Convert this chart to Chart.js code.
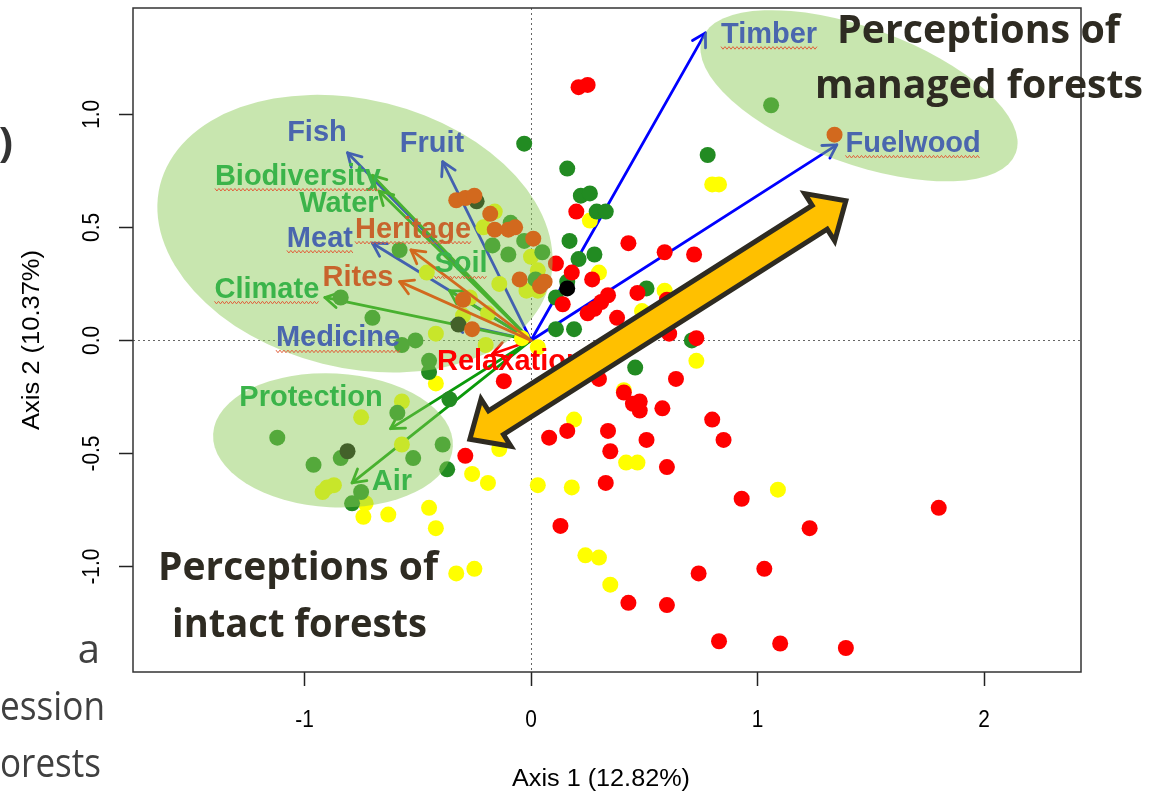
<!DOCTYPE html>
<html><head><meta charset="utf-8">
<script src="https://cdn.jsdelivr.net/npm/chart.js@4.4.1/dist/chart.umd.min.js"></script>
<style>html,body{margin:0;padding:0;background:#fff;}#wrap{width:1153px;height:800px;}</style>
</head><body><div id="wrap"><canvas id="c" width="1153" height="800"></canvas></div>
<script>
// ---------- DATA ----------
const xTicks = [-1, 0, 1, 2];
const yTicks = [-1.0, -0.5, 0.0, 0.5, 1.0];
const xTitle = 'Axis 1 (12.82%)';
const yTitle = 'Axis 2 (10.37%)';

const redPoints = [[0.21,1.12],[0.25,1.13],[0.20,0.57],[0.43,0.43],[0.59,0.39],[0.72,0.38],[0.11,0.34],[0.18,0.30],[0.27,0.27],[0.47,0.21],[0.60,0.18],[0.14,0.16],[0.34,0.20],[0.31,0.17],[0.28,0.14],[0.25,0.12],[0.38,0.10],[0.61,0.03],[0.73,0.01],[-0.12,-0.18],[0.30,-0.17],[0.41,-0.23],[0.45,-0.28],[0.48,-0.27],[0.48,-0.31],[0.58,-0.30],[0.64,-0.17],[0.80,-0.35],[0.85,-0.44],[-0.29,-0.51],[0.08,-0.43],[0.16,-0.40],[0.34,-0.40],[0.35,-0.49],[0.51,-0.44],[0.33,-0.63],[0.60,-0.56],[0.13,-0.82],[0.43,-1.16],[0.60,-1.17],[0.74,-1.03],[0.93,-0.70],[1.23,-0.83],[1.03,-1.01],[0.83,-1.33],[1.10,-1.34],[1.39,-1.36],[1.80,-0.74]];
const greenPoints = [[-0.03,0.87],[0.16,0.76],[0.22,0.64],[0.26,0.65],[0.29,0.57],[0.33,0.57],[0.17,0.44],[0.21,0.36],[0.28,0.38],[0.16,0.26],[0.11,0.19],[0.51,0.23],[0.11,0.05],[0.19,0.05],[0.71,0.00],[0.46,-0.12],[0.78,0.82],[1.06,1.04],[-0.17,0.42],[-0.10,0.38],[-0.09,0.52],[-0.03,0.44],[0.05,0.39],[0.02,0.27],[-0.58,0.40],[-0.84,0.19],[-0.70,0.10],[-0.51,0.00],[-0.57,-0.02],[-0.45,-0.09],[-0.45,-0.14],[-0.36,-0.26],[-0.59,-0.32],[-1.12,-0.43],[-0.84,-0.52],[-0.52,-0.52],[-0.39,-0.46],[-0.37,-0.57],[-0.96,-0.55],[-0.75,-0.67],[-0.79,-0.72]];
const yellowPoints = [[0.26,0.53],[0.30,0.30],[0.59,0.22],[0.49,0.13],[0.80,0.69],[0.83,0.69],[0.73,-0.09],[0.41,-0.22],[0.19,-0.35],[-0.14,-0.48],[-0.26,-0.59],[-0.19,-0.63],[0.03,-0.64],[0.18,-0.65],[0.42,-0.54],[0.47,-0.54],[1.09,-0.66],[0.24,-0.95],[0.30,-0.96],[0.35,-1.08],[-0.33,-1.03],[-0.25,-1.01],[-0.45,-0.74],[-0.42,-0.83],[-0.74,-0.78],[-0.63,-0.77],[-0.42,-0.19],[-0.04,0.01],[0.03,-0.03],[-0.73,-0.72],[-0.21,0.50],[-0.16,0.57],[0.00,0.37],[0.03,0.31],[-0.14,0.25],[-0.02,0.22],[0.03,0.22],[-0.46,0.30],[-0.27,0.19],[-0.19,0.12],[-0.30,0.11],[-0.42,0.03],[-0.20,-0.02],[-0.57,-0.27],[-0.75,-0.34],[-0.57,-0.46],[-0.92,-0.67],[-0.90,-0.65],[-0.87,-0.64]];
const blackPoints = [[0.16,0.23],[-0.32,0.07],[-0.81,-0.49],[-0.24,0.615]];
const orangePoints = [[-0.33,0.62],[-0.29,0.63],[-0.25,0.64],[-0.18,0.56],[-0.16,0.49],[-0.10,0.49],[-0.07,0.50],[0.01,0.45],[-0.05,0.27],[0.04,0.24],[0.06,0.26],[-0.30,0.18],[-0.26,0.05],[1.34,0.91]];

const loadingNames = ['Timber','Fuelwood','Fish','Fruit','Meat','Medicine','Biodiversity','Water','Soil','Climate','Protection','Air','Heritage','Rites','Relaxation'];
const loadingX = [0.77, 1.35, -0.81, -0.39, -0.70, -0.35, -0.70, -0.67, -0.36, -0.91, -0.62, -0.79, -0.53, -0.58, -0.17];
const loadingY = [1.36, 0.865, 0.83, 0.79, 0.43, 0.08, 0.73, 0.66, 0.22, 0.19, -0.39, -0.63, 0.40, 0.26, -0.06];
const loadingType = ['prov','prov','prov','prov','prov','prov','reg','reg','reg','reg','reg','reg','cult','cult','rec'];

// ---------- LAYOUT / STYLE ----------
const labelPos = {Timber:[1.051,1.351],Fuelwood:[1.687,0.870],Fish:[-0.945,0.918],Fruit:[-0.437,0.870],Meat:[-0.932,0.450],Medicine:[-0.852,0.009],Biodiversity:[-1.029,0.724],Water:[-0.848,0.605],Soil:[-0.309,0.336],Climate:[-1.166,0.225],Protection:[-0.971,-0.256],Air:[-0.614,-0.627],Heritage:[-0.521,0.490],Rites:[-0.764,0.278],Relaxation:[-0.415,-0.097,'left']};
const squiggled = ['Timber','Fuelwood','Meat','Medicine','Biodiversity','Soil','Climate','Heritage'];
const arrowColor = {prov:'#0000FF', reg:'#0B9A0B', cult:'#D2691E', rec:'#FF0000'};
const labelColor = {prov:'#4A66AE', reg:'#3BB44A', cult:'#C8642D', rec:'#FF0000'};
const ellipses = [
  {cx:-0.777, cy:0.472, a:0.887, b:0.593, rot:14},
  {cx:-0.874, cy:-0.4415, a:0.530, b:0.296, rot:3},
  {cx:1.448, cy:1.082, a:0.737, b:0.300, rot:20}
];
const bigArrow = {from:[-0.27,-0.437], to:[1.39,0.618]};
const ellipseFill = 'rgba(140,203,88,0.48)';

const toXY = arr => arr.map(p => ({x:p[0], y:p[1]}));

function fitText(ctx, txt, x, y, font, color, o) {
  o = o || {};
  ctx.save(); ctx.font = font; ctx.fillStyle = color;
  ctx.textBaseline = o.baseline || 'alphabetic';
  ctx.textAlign = o.align || 'left';
  const w = ctx.measureText(txt).width;
  const k = o.width ? o.width / w : (o.scaleX || 1);
  ctx.translate(x, y); if (o.rot) ctx.rotate(o.rot); ctx.scale(k, 1);
  ctx.fillText(txt, 0, 0); ctx.restore();
}
function drawArrow(ctx, x0, y0, x1, y1, color) {
  ctx.save(); ctx.strokeStyle = color; ctx.lineWidth = 2.8; ctx.lineCap = 'round'; ctx.lineJoin = 'round';
  ctx.beginPath(); ctx.moveTo(x0, y0); ctx.lineTo(x1, y1); ctx.stroke();
  const a = Math.atan2(y1 - y0, x1 - x0), L = 15, s = Math.PI / 6;
  ctx.beginPath();
  ctx.moveTo(x1 - L * Math.cos(a - s), y1 - L * Math.sin(a - s));
  ctx.lineTo(x1, y1);
  ctx.lineTo(x1 - L * Math.cos(a + s), y1 - L * Math.sin(a + s));
  ctx.stroke(); ctx.restore();
}

const overlay = {
  id: 'overlay',
  beforeDatasetsDraw(chart) {
    const {ctx, chartArea: ca, scales: {x, y}} = chart;
    ctx.save();
    ctx.strokeStyle = '#666'; ctx.lineWidth = 1; ctx.setLineDash([2, 3]);
    const x0 = Math.round(x.getPixelForValue(0)) + 0.5, y0 = Math.round(y.getPixelForValue(0)) + 0.5;
    ctx.beginPath(); ctx.moveTo(x0, ca.top); ctx.lineTo(x0, ca.bottom);
    ctx.moveTo(ca.left, y0); ctx.lineTo(ca.right, y0); ctx.stroke();
    ctx.restore();
    loadingNames.forEach((n, i) => {
      if (loadingType[i] === 'cult') return;
      drawArrow(ctx, x.getPixelForValue(0), y.getPixelForValue(0), x.getPixelForValue(loadingX[i]), y.getPixelForValue(loadingY[i]), arrowColor[loadingType[i]]);
    });
  },
  beforeDatasetDraw(chart, args) {
    if (args.index !== 0) return;
    const {ctx, scales: {x, y}} = chart;
    const kx = Math.abs(x.getPixelForValue(1) - x.getPixelForValue(0));
    const ky = Math.abs(y.getPixelForValue(1) - y.getPixelForValue(0));
    ctx.save();
    ctx.fillStyle = ellipseFill;
    ellipses.forEach(e => {
      ctx.beginPath();
      ctx.ellipse(x.getPixelForValue(e.cx), y.getPixelForValue(e.cy), e.a * kx, e.b * ky, e.rot * Math.PI / 180, 0, Math.PI * 2);
      ctx.fill();
    });
    ctx.restore();
    loadingNames.forEach((n, i) => {
      if (loadingType[i] !== 'cult') return;
      drawArrow(ctx, x.getPixelForValue(0), y.getPixelForValue(0), x.getPixelForValue(loadingX[i]), y.getPixelForValue(loadingY[i]), arrowColor[loadingType[i]]);
    });
  },
  afterDatasetsDraw(chart) {
    const {ctx, chartArea: ca, scales: {x, y}} = chart;
    // frame
    ctx.save(); ctx.strokeStyle = '#333'; ctx.lineWidth = 1.5;
    ctx.strokeRect(ca.left, ca.top, ca.right - ca.left, ca.bottom - ca.top); ctx.restore();
    // loading labels
    loadingNames.forEach((n, i) => {
      const p = labelPos[n];
      const px = x.getPixelForValue(p[0]), py = y.getPixelForValue(p[1]);
      const font = 'bold 29px "Liberation Sans", Arial, sans-serif';
      const align = p[2] || 'center';
      fitText(ctx, n, px, py, font, labelColor[loadingType[i]], {baseline: 'middle', align: align});
      if (squiggled.includes(n)) {
        ctx.save(); ctx.font = font;
        const w = ctx.measureText(n).width;
        const sx0 = align === 'left' ? px : px - w / 2;
        ctx.strokeStyle = '#E0603C'; ctx.lineWidth = 1; ctx.beginPath();
        for (let t = 0, k = 0; t <= w; t += 2, k++) {
          const yy = py + 13 + (k % 2 ? 1.3 : -1.3);
          if (t === 0) ctx.moveTo(sx0 + t, yy); else ctx.lineTo(sx0 + t, yy);
        }
        ctx.stroke(); ctx.restore();
      }
    });
    // big double arrow
    const A = [x.getPixelForValue(bigArrow.from[0]), y.getPixelForValue(bigArrow.from[1])];
    const B = [x.getPixelForValue(bigArrow.to[0]), y.getPixelForValue(bigArrow.to[1])];
    const len = Math.hypot(B[0] - A[0], B[1] - A[1]);
    const u = [(B[0] - A[0]) / len, (B[1] - A[1]) / len], nrm = [-u[1], u[0]];
    const HL = 31, HW = 28, hw = 14;
    const P = (base, along, side) => [base[0] + along * u[0] + side * nrm[0], base[1] + along * u[1] + side * nrm[1]];
    const pts = [A, P(A, HL, HW), P(A, HL, hw), P(B, -HL, hw), P(B, -HL, HW), B, P(B, -HL, -HW), P(B, -HL, -hw), P(A, HL, -hw), P(A, HL, -HW)];
    ctx.save(); ctx.beginPath(); pts.forEach((q, i) => i ? ctx.lineTo(q[0], q[1]) : ctx.moveTo(q[0], q[1])); ctx.closePath();
    ctx.fillStyle = '#FFC000'; ctx.fill(); ctx.strokeStyle = '#2E2B22'; ctx.lineWidth = 5; ctx.lineJoin = 'miter'; ctx.stroke(); ctx.restore();
    // slide annotations
    const big = 'bold 40px "Open Sans", sans-serif', dark = '#2E2B22';
    fitText(ctx, 'Perceptions of', 837, 43, big, dark, {width: 283});
    fitText(ctx, 'managed forests', 815, 98, big, dark, {width: 328});
    fitText(ctx, 'Perceptions of', 158, 580, big, dark, {width: 280});
    fitText(ctx, 'intact forests', 172, 637, big, dark, {width: 255});
    const side = '40px "Open Sans", sans-serif', grey = '#404040';
    fitText(ctx, ')', 13, 157, 'bold 42px "Open Sans", sans-serif', '#333', {align: 'right'});
    fitText(ctx, 'a', 100, 663, side, grey, {align: 'right'});
    fitText(ctx, 'ession', 105, 720, side, grey, {align: 'right', width: 105});
    fitText(ctx, 'orests', 101, 777, side, grey, {align: 'right', width: 101});
    // axis tick labels and titles
    const tf = '24px "Liberation Sans", Arial, sans-serif';
    xTicks.forEach(v => fitText(ctx, String(v), x.getPixelForValue(v), 720, tf, '#000', {baseline: 'middle', align: 'center', scaleX: 0.87}));
    yTicks.forEach(v => fitText(ctx, v.toFixed(1), 92, y.getPixelForValue(v), tf, '#000', {baseline: 'middle', align: 'center', scaleX: 0.87, rot: -Math.PI / 2}));
    fitText(ctx, xTitle, 601, 780, '23px "Liberation Sans", Arial, sans-serif', '#000', {baseline: 'middle', align: 'center', width: 178});
    fitText(ctx, yTitle, 33, 340, '23px "Liberation Sans", Arial, sans-serif', '#000', {baseline: 'middle', align: 'center', width: 180, rot: -Math.PI / 2});
  }
};

const mk = (label, pts, color) => ({label, data: toXY(pts), backgroundColor: color, borderWidth: 0, pointRadius: 8, pointHoverRadius: 8, pointStyle: 'circle', showLine: false});

new Chart(document.getElementById('c'), {
  type: 'scatter',
  data: {datasets: [
    mk('orange', orangePoints, '#D2691E'),
    mk('black', blackPoints, '#000000'),
    mk('red', redPoints, '#FF0000'),
    mk('green', greenPoints, '#228B22'),
    mk('yellow', yellowPoints, '#FFFF00')
  ]},
  options: {
    responsive: false, animation: false, devicePixelRatio: 1, events: [],
    layout: {padding: {left: 119, right: 72, top: 7, bottom: 114}},
    plugins: {legend: {display: false}, tooltip: {enabled: false}},
    scales: {
      x: {type: 'linear', min: -1.757, max: 2.428,
          afterBuildTicks: s => { s.ticks = xTicks.map(v => ({value: v})); },
          ticks: {display: false}, border: {display: false},
          grid: {drawOnChartArea: false, drawTicks: true, tickLength: 14, tickColor: '#222', tickWidth: 1.5}},
      y: {type: 'linear', min: -1.466, max: 1.470,
          afterBuildTicks: s => { s.ticks = yTicks.map(v => ({value: v})); },
          ticks: {display: false}, border: {display: false},
          grid: {drawOnChartArea: false, drawTicks: true, tickLength: 14, tickColor: '#222', tickWidth: 1.5}}
    }
  },
  plugins: [overlay]
});
</script></body></html>
